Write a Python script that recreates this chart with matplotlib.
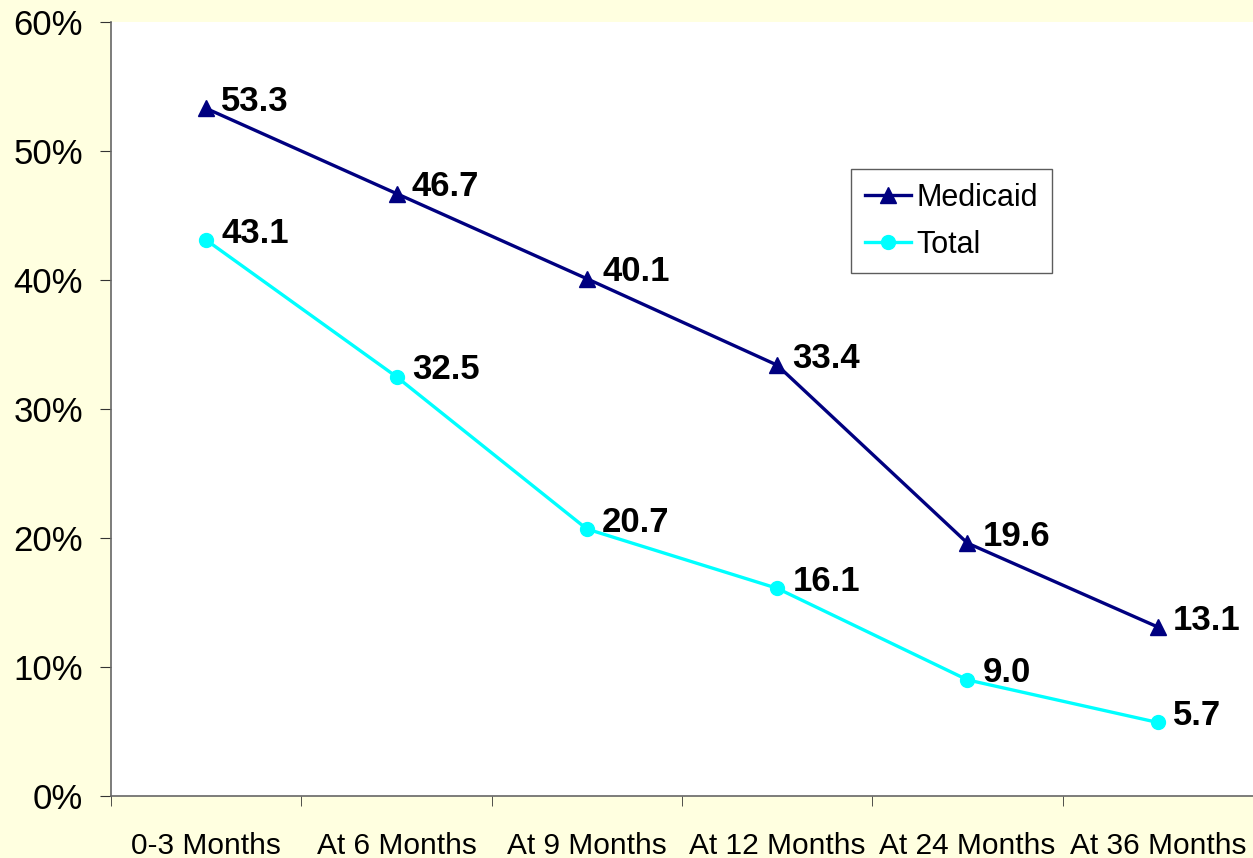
import matplotlib.pyplot as plt
import numpy as np

plt.rcParams['font.family'] = ['Liberation Sans', 'DejaVu Sans']

categories = ["0-3 Months", "At 6 Months", "At 9 Months", "At 12 Months", "At 24 Months", "At 36 Months"]
medicaid = [53.3, 46.7, 40.1, 33.4, 19.6, 13.1]
total = [43.1, 32.5, 20.7, 16.1, 9.0, 5.7]

fig = plt.figure(figsize=(12.53, 8.58), dpi=100, facecolor="#FFFFE0")
ax = fig.add_axes([111/1253, 62/858, 1 - 111/1253, 774/858])
ax.set_facecolor("white")

x = np.arange(len(categories))
ax.plot(x, medicaid, color="#000080", lw=2.4, marker="^", ms=11, label="Medicaid")
ax.plot(x, total, color="#00FFFF", lw=2.4, marker="o", ms=10, label="Total")

for xi, v in zip(x, medicaid):
    ax.annotate(f"{v:.1f}", (xi, v), xytext=(11, 5), textcoords="offset points",
                fontsize=25, fontweight="bold", va="center", ha="left")
for xi, v in zip(x, total):
    ax.annotate(f"{v:.1f}", (xi, v), xytext=(11, 5), textcoords="offset points",
                fontsize=25, fontweight="bold", va="center", ha="left")

ax.set_xlim(-0.5, 5.48)
ax.set_ylim(0, 60)
ax.set_yticks(range(0, 61, 10))
ax.set_yticklabels([f"{t}%" for t in range(0, 61, 10)], fontsize=25)
ax.set_xticks(x)
ax.set_xticklabels(categories, fontsize=21.5)
ax.set_xticks(np.arange(-0.5, 5.6, 1), minor=True)
ax.tick_params(axis="x", which="major", length=0, pad=26)
ax.tick_params(axis="x", which="minor", length=7, direction="out", color="#333333")
ax.tick_params(axis="y", length=8, direction="out", color="#333333", pad=12)

for s in ["top", "right"]:
    ax.spines[s].set_visible(False)
for s in ["left", "bottom"]:
    ax.spines[s].set_color("#666666")
    ax.spines[s].set_linewidth(1.2)

leg = ax.legend(loc="upper left", bbox_to_anchor=(0.648, 0.81), fontsize=22,
                frameon=True, fancybox=False, edgecolor="#333333", borderaxespad=0,
                handlelength=1.5, handletextpad=0.2, borderpad=0.45, labelspacing=0.55)
leg.get_frame().set_linewidth(1.0)

fig.savefig("out.png", dpi=100, facecolor=fig.get_facecolor())
